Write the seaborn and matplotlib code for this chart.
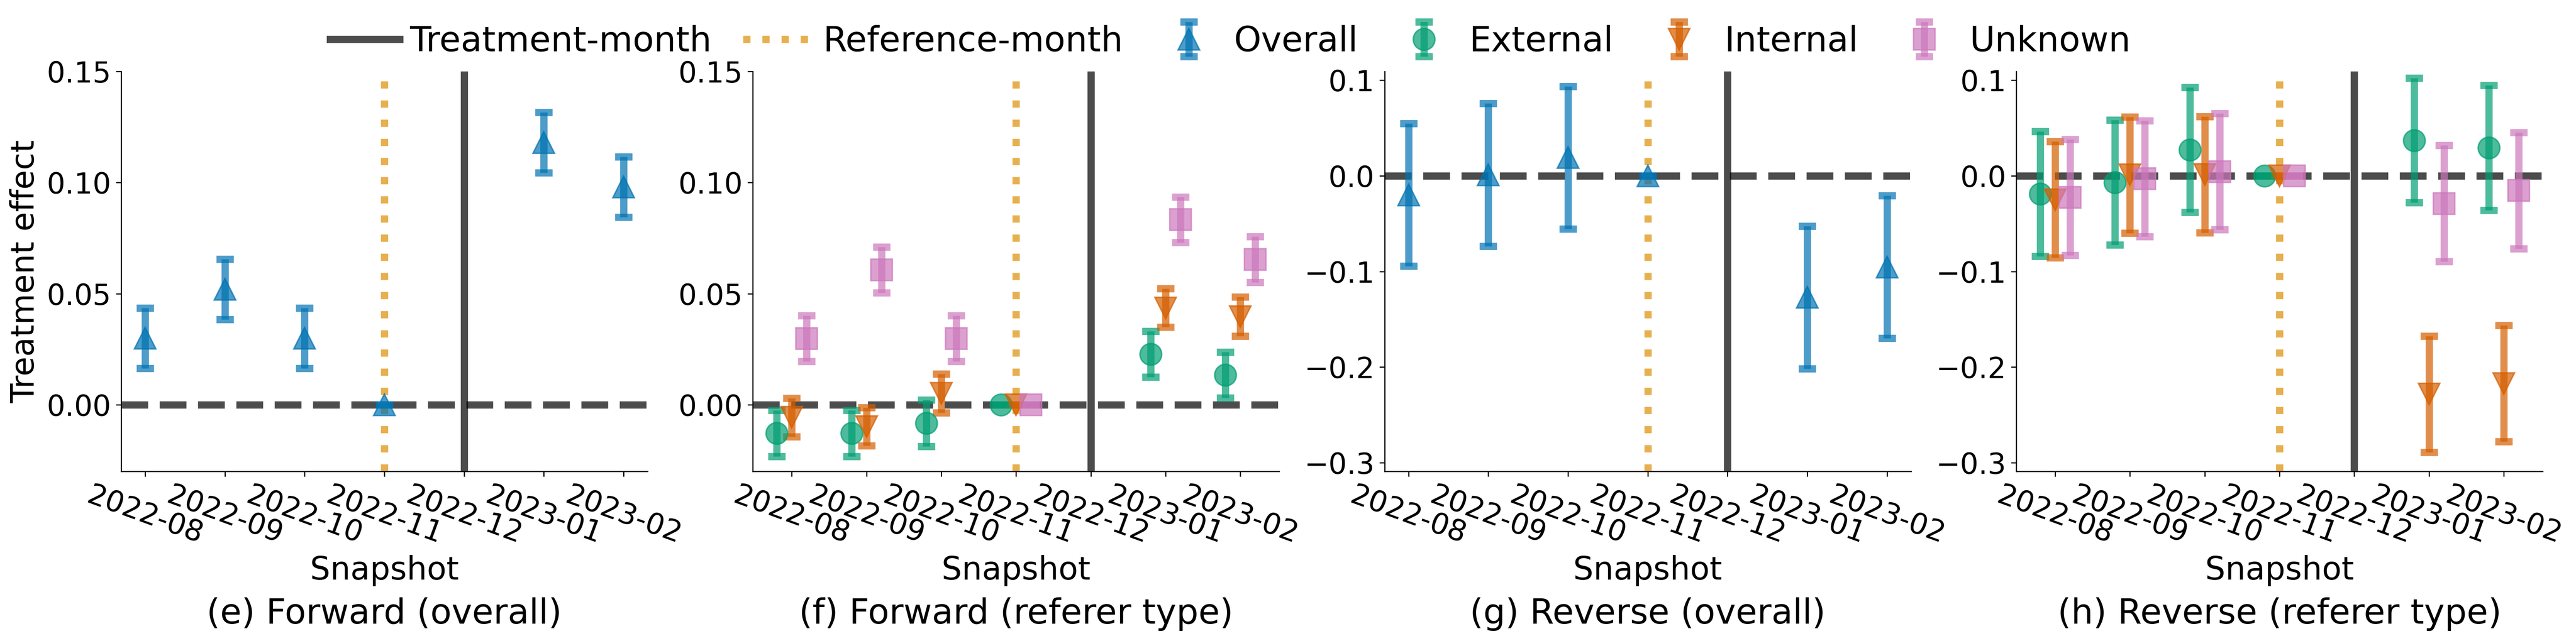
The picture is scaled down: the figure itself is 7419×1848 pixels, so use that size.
import numpy as np
import matplotlib
matplotlib.use('Agg')
import matplotlib.pyplot as plt
import seaborn as sns

months = ['2022-08', '2022-09', '2022-10', '2022-11', '2022-12', '2023-01', '2023-02']
snapshots = ['2022-08', '2022-09', '2022-10', '2022-11', '2023-01', '2023-02']
treatment_month = '2022-12'
reference_month = '2022-11'

# forward direction
fwd_overall = [0.030, 0.052, 0.030, 0.0, 0.118, 0.098]
fwd_overall_err = [0.0136, 0.0136, 0.0136, 0.0, 0.0136, 0.0136]
fwd_external = [-0.0129, -0.0129, -0.0083, 0.0, 0.0228, 0.0134]
fwd_external_err = [0.0104, 0.0104, 0.0104, 0.0, 0.0103, 0.0103]
fwd_internal = [-0.0057, -0.0098, 0.0051, 0.0, 0.0436, 0.0397]
fwd_internal_err = [0.0087, 0.0086, 0.0087, 0.0, 0.0086, 0.0088]
fwd_unknown = [0.0298, 0.0607, 0.0298, 0.0, 0.0833, 0.0654]
fwd_unknown_err = [0.0103, 0.0103, 0.0103, 0.0, 0.0102, 0.0103]

# reverse direction
rev_overall = [-0.0199, 0.001, 0.019, 0.0, -0.1271, -0.0953]
rev_overall_err = [0.0746, 0.0746, 0.0746, 0.0, 0.0746, 0.0744]
rev_external = [-0.019, -0.0071, 0.0271, 0.0, 0.037, 0.0293]
rev_external_err = [0.0652, 0.0652, 0.0652, 0.0, 0.0652, 0.0652]
rev_internal = [-0.025, 0.0009, 0.0013, 0.0, -0.2282, -0.2171]
rev_internal_err = [0.0607, 0.0607, 0.0607, 0.0, 0.0607, 0.0607]
rev_unknown = [-0.0226, -0.003, 0.0043, 0.0, -0.029, -0.0154]
rev_unknown_err = [0.0607, 0.0607, 0.0607, 0.0, 0.0607, 0.0607]

pal = sns.color_palette('colorblind')
colors = {'Overall': pal[0], 'External': pal[2], 'Internal': pal[3], 'Unknown': pal[4]}
markers = {'Overall': '^', 'External': 'o', 'Internal': 'v', 'Unknown': 's'}
offsets = {'Overall': 0.0, 'External': -0.2, 'Internal': 0.0, 'Unknown': 0.2}

fig, axes = plt.subplots(1, 4, figsize=(7419 / 300, 1848 / 300), dpi=300)
fig.subplots_adjust(left=0.04704, right=0.98706, bottom=0.2646, top=0.8885, wspace=0.2)

panels = [
    ('(e) Forward (overall)', {'Overall': (fwd_overall, fwd_overall_err)},
     (-0.03, 0.15), [0.0, 0.05, 0.10, 0.15]),
    ('(f) Forward (referer type)', {'External': (fwd_external, fwd_external_err),
                                    'Internal': (fwd_internal, fwd_internal_err),
                                    'Unknown': (fwd_unknown, fwd_unknown_err)},
     (-0.03, 0.15), [0.0, 0.05, 0.10, 0.15]),
    ('(g) Reverse (overall)', {'Overall': (rev_overall, rev_overall_err)},
     (-0.309, 0.109), [-0.3, -0.2, -0.1, 0.0, 0.1]),
    ('(h) Reverse (referer type)', {'External': (rev_external, rev_external_err),
                                    'Internal': (rev_internal, rev_internal_err),
                                    'Unknown': (rev_unknown, rev_unknown_err)},
     (-0.309, 0.109), [-0.3, -0.2, -0.1, 0.0, 0.1]),
]

for ax, (title, series, ylim, yticks) in zip(axes, panels):
    ax.axhline(0, color='k', alpha=0.7, lw=5, ls='--')
    ax.axvline(months.index(treatment_month), color='k', alpha=0.7, lw=5, label='Treatment-month')
    ax.axvline(months.index(reference_month), color=pal[1], alpha=0.7, lw=5, ls=':',
               label='Reference-month')
    for name, (vals, errs) in series.items():
        x = np.array([months.index(s) for s in snapshots]) + offsets[name]
        ax.errorbar(x, vals, yerr=errs, fmt=markers[name], color=colors[name], ms=15,
                    elinewidth=5, capsize=6, capthick=5, alpha=0.7, label=name)
    ax.set_ylim(*ylim)
    ax.set_yticks(yticks)
    ax.set_xticks(range(len(months)), months, rotation=-20, ha='center')
    ax.tick_params(labelsize=20)
    ax.set_xlabel('Snapshot', fontsize=22)
    ax.text(0.5, -0.381, title, transform=ax.transAxes, ha='center', va='baseline', fontsize=24)

axes[0].set_ylabel('Treatment effect', fontsize=22)
sns.despine(fig=fig)

h0, l0 = axes[0].get_legend_handles_labels()
h1, l1 = axes[1].get_legend_handles_labels()
fig.legend(h0 + h1[2:], l0 + l1[2:], loc='center', bbox_to_anchor=(0.4776, 0.935),
           ncol=6, frameon=False, fontsize=24, handletextpad=0.3, columnspacing=0.9)

fig.savefig('out.png', dpi=300)
